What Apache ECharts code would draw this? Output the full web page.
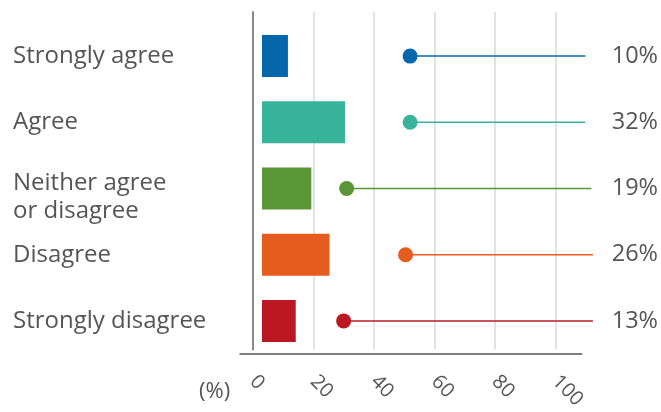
<!DOCTYPE html>
<html>
<head>
<meta charset="utf-8">
<script src="https://cdn.jsdelivr.net/npm/echarts@6/dist/echarts.min.js"></script>
<style>
  html, body { margin: 0; padding: 0; background: #fff; }
  #chart { width: 661px; height: 412px; }
</style>
</head>
<body>
<div id="chart"></div>
<script>
// Survey responses
const categories = ['Strongly agree', 'Agree', 'Neither agree\nor disagree', 'Disagree', 'Strongly disagree'];
const shares = [10, 32, 19, 26, 13];            // bar values, shown as % on the right
const dotValues = [52, 52, 31, 50.5, 30];        // lollipop positions
const stemEnds = [110, 110, 112, 112.5, 112.5];  // where each lollipop stem stops
const xTicks = [0, 20, 40, 60, 80, 100];
const colors = ['#0567ab', '#38b39c', '#5b9636', '#e65c1e', '#bc1824'];

const FONT = 'Open Sans';
const TEXT = '#555';

const chart = echarts.init(document.getElementById('chart'), null, { renderer: 'canvas' });

chart.setOption({
  animation: false,
  textStyle: { fontFamily: FONT },
  title: {
    text: '(%)',
    left: 194, top: 376,
    textStyle: { fontSize: 22, fontWeight: 'normal', color: TEXT, fontFamily: FONT }
  },
  grid: [
    // frame: vertical gridlines and percentage scale
    { left: 253, right: 105.6, top: 12, bottom: 51 },
    // data area
    { left: 240, right: 79, top: 23, bottom: 58 }
  ],
  xAxis: [
    {
      gridIndex: 0, type: 'value', min: xTicks[0], max: xTicks[xTicks.length - 1], interval: 20,
      axisLine: { show: false },
      axisTick: { show: false },
      splitLine: { show: true, lineStyle: { color: '#d9d9d9', width: 1.5 } },
      axisLabel: {
        show: true, rotate: -45, margin: 29, color: TEXT, fontSize: 20, fontFamily: FONT,
        showMinLabel: true, showMaxLabel: true
      }
    },
    {
      // shares the 0–100 scale with the frame; carries the baseline
      gridIndex: 1, type: 'value', min: -4.3, max: 108.8,
      axisLine: { show: true, onZero: false, lineStyle: { color: '#555', width: 1.5 } },
      axisTick: { show: false }, axisLabel: { show: false }, splitLine: { show: false }
    },
    {
      // bar scale
      gridIndex: 1, type: 'value', min: -8.46, max: 123.1, show: false
    }
  ],
  yAxis: [
    {
      gridIndex: 0, type: 'value', min: 0, max: 1,
      axisLine: { show: true, lineStyle: { color: '#888', width: 2 } },
      axisTick: { show: false }, axisLabel: { show: false }, splitLine: { show: false }
    },
    {
      gridIndex: 1, type: 'category', inverse: true, data: categories,
      axisLine: { show: false }, axisTick: { show: false }, splitLine: { show: false },
      axisLabel: {
        align: 'left', margin: 227, color: TEXT, fontSize: 24, lineHeight: 28, fontFamily: FONT,
        formatter: v => v.indexOf('\n') >= 0 ? '{two|' + v + '}' : v,
        rich: {
          two: { color: TEXT, fontSize: 24, lineHeight: 28, fontFamily: FONT, padding: [18, 0, 0, 0] }
        }
      }
    },
    {
      gridIndex: 1, type: 'category', inverse: true, position: 'right',
      data: shares.map(v => v + '%'),
      axisLine: { show: false }, axisTick: { show: false }, splitLine: { show: false },
      axisLabel: { align: 'left', margin: 30, color: TEXT, fontSize: 23.5, fontFamily: FONT }
    }
  ],
  series: [
    {
      type: 'bar',
      xAxisIndex: 2, yAxisIndex: 1,
      barWidth: 42,
      data: shares.map((v, i) => ({ value: v, itemStyle: { color: colors[i] } }))
    },
    {
      type: 'custom',
      xAxisIndex: 1, yAxisIndex: 1,
      clip: false,
      data: dotValues.map((v, i) => [v, i, stemEnds[i]]),
      renderItem: function (params, api) {
        const i = api.value(1);
        const p0 = api.coord([api.value(0), i]);
        const p1 = api.coord([api.value(2), i]);
        const c = colors[i];
        return {
          type: 'group',
          children: [
            {
              type: 'line',
              shape: { x1: p0[0], y1: p0[1], x2: p1[0], y2: p1[1] },
              style: { stroke: c, lineWidth: 1.5 }
            },
            {
              type: 'circle',
              shape: { cx: p0[0], cy: p0[1], r: 7.5 },
              style: { fill: c }
            }
          ]
        };
      }
    }
  ]
});
</script>
</body>
</html>
